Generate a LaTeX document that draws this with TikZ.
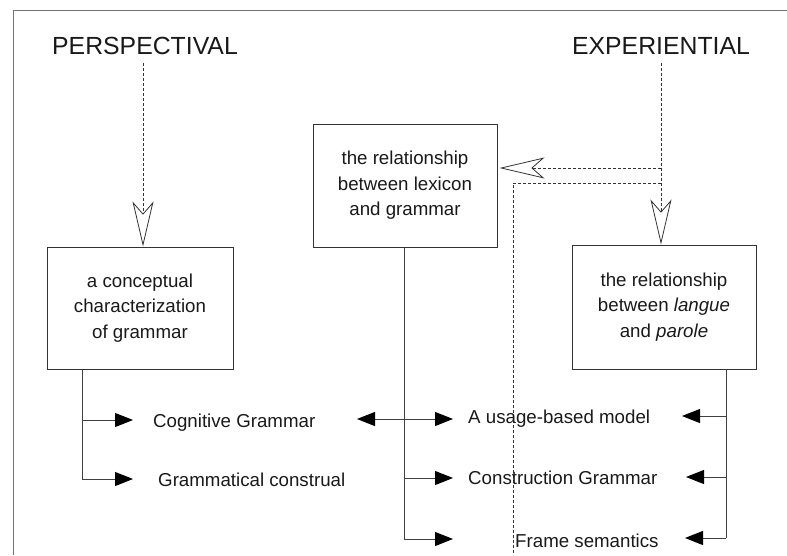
\documentclass[tikz,border=0pt]{standalone}
\usepackage{fontspec}
\setmainfont{Liberation Sans}
\usetikzlibrary{arrows.meta}
\begin{document}
\begin{tikzpicture}[x=1pt,y=-1pt,
  txt/.style={text=black!90, inner sep=0pt},
  head/.style={txt, font=\fontsize{24.8}{28}\selectfont},
  lab/.style={txt, anchor=base west, font=\fontsize{18.7}{22}\selectfont},
  box/.style={draw=black!80, line width=1pt, text=black!90, align=center,
    inner sep=0pt, font=\fontsize{18.7}{25.5}\selectfont},
  frame/.style={draw=black!55, line width=0.8pt},
  dashln/.style={draw=black!80, line width=0.9pt, dash pattern=on 3pt off 2pt},
  openarr/.style={dashln, -{Stealth[open, fill=white, length=45pt, width=21pt, inset=12pt, line width=0.8pt]}},
  stem/.style={draw=black!75, line width=1pt},
  tri/.tip={Triangle[length=18pt, width=14pt, color=black]},
  solidarr/.style={stem, -tri},
  dblarr/.style={stem, tri-tri}
]
\useasboundingbox (0,0) rectangle (787,555);
% frame
\coordinate (ftl) at (13,10);
\coordinate (ftr) at (787,10);
\coordinate (fbl) at (13,555);
\draw[frame] (ftr) -- (ftl) -- (fbl);

% headings
\node[head] (persp) at (145,46) {PERSPECTIVAL};
\node[head] (exper) at (661,46) {EXPERIENTIAL};

% boxes
\node[box, minimum width=186pt, minimum height=122pt] (b1) at (140,308)
  {a conceptual\\characterization\\of grammar};
\node[box, minimum width=184pt, minimum height=123pt] (b2) at (405,185.5)
  {the relationship\\between lexicon\\and grammar};
\node[box, minimum width=184pt, minimum height=124pt] (b3) at (664,307)
  {the relationship\\between \textit{langue}\\and \textit{parole}};

% dashed arrows from headings
\draw[openarr] ([xshift=-2pt,yshift=-8pt]persp.south) -- ([xshift=3pt]b1.north);
\coordinate (j1) at (661,168);
\coordinate (j2) at (661,183);
\draw[openarr] ([yshift=-8pt]exper.south) -- (exper.south |- b3.north);
\draw[openarr] (j1) -- ([xshift=2pt]j1 -| b2.east);
\coordinate (k1) at (513,183);
\coordinate (k2) at (513,555);
\draw[dashln] (j2) -- (k1) -- (k2);

% labels
\node[lab] (cg) at (153,427) {Cognitive Grammar};
\node[lab] (gc) at (158,486) {Grammatical construal};
\node[lab] (ub) at (468,423) {A usage-based model};
\node[lab] (cx) at (468,484) {Construction Grammar};
\node[lab] (fs) at (515,547) {Frame semantics};

% left stem
\coordinate (l0) at (82,369);
\coordinate (l1) at (82,420);
\coordinate (l2) at (82,479);
\coordinate (lt1) at (133,420);
\coordinate (lt2) at (133,479);
\draw[stem] (b1.south -| l0) -- (l2);
\draw[solidarr] (l1) -- (lt1);
\draw[solidarr] (l2) -- (lt2);

% middle stem
\coordinate (m3) at (404,539);
\coordinate (m2) at (404,478);
\coordinate (ma) at (357,419);
\coordinate (mb) at (453,419);
\coordinate (mt2) at (453,478);
\coordinate (mt3) at (453,539);
\draw[stem] (b2.south -| m3) -- (m3);
\draw[dblarr] (ma) -- (mb);
\draw[solidarr] (m2) -- (mt2);
\draw[solidarr] (m3) -- (mt3);

% right stem
\coordinate (r1) at (726,416);
\coordinate (r2) at (726,477);
\coordinate (r3) at (726,538);
\coordinate (rt1) at (682,416);
\coordinate (rt2) at (686,477);
\coordinate (rt3) at (685,538);
\draw[stem] (b3.south -| r3) -- (r3);
\draw[solidarr] (r1) -- (rt1);
\draw[solidarr] (r2) -- (rt2);
\draw[solidarr] (r3) -- (rt3);
\end{tikzpicture}
\end{document}
